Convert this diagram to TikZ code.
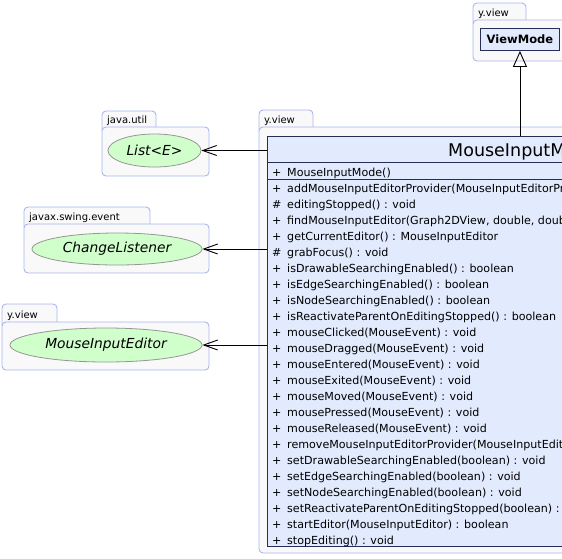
\documentclass[tikz,border=0pt]{standalone}
\usepackage{fontspec}
\setsansfont{DejaVu Sans}
\usetikzlibrary{arrows.meta,shapes.geometric}

\definecolor{pkgline}{RGB}{170,180,240}
\definecolor{pkgfill}{RGB}{249,249,249}
\definecolor{classfill}{RGB}{226,234,254}
\definecolor{classline}{RGB}{36,46,86}
\definecolor{ifacefill}{RGB}{208,255,204}
\definecolor{ifaceline}{RGB}{150,150,150}

\tikzset{
  pkgframe/.style={draw=pkgline, fill=pkgfill, line width=0.9pt, rounded corners=4pt},
  pkglabel/.style={font=\sffamily\fontsize{10}{12}\selectfont, inner sep=0pt},
  classbox/.style={draw=classline, fill=classfill, line width=0.9pt, inner sep=0pt},
  iface/.style={ellipse, draw=ifaceline, fill=ifacefill, line width=0.8pt, inner sep=0pt,
    font=\sffamily\itshape\fontsize{13.8}{16}\selectfont},
  member/.style={font=\sffamily\fontsize{11.1}{13}\selectfont, inner sep=0pt, anchor=base west},
  dep/.style={-{Straight Barb[length=14pt,width=10pt]}, line width=0.9pt},
  inherit/.style={-{Triangle[open,length=16pt,width=14pt]}, line width=0.9pt}
}

% package: left, tab right, body right, tab top, body top, body bottom, name
\newcommand{\umlpkg}[7]{%
  \draw[pkgframe] (#1,#4) rectangle (#2,#5+6);
  \draw[pkgframe] (#1,#5) rectangle (#3,#6);
  \node[pkglabel, anchor=base west] at (#1+5,#5-4) {#7};
}

\begin{document}
\begin{tikzpicture}[x=1pt, y=-1pt]
  \useasboundingbox (0,0) rectangle (562,558);
  \clip (0,0) rectangle (562,558);

  % --- packages ---
  \umlpkg{473}{526}{600}{3}{20}{61}{y.view}
  \umlpkg{102}{156}{209}{111}{127}{176}{java.util}
  \umlpkg{24}{150}{209}{207}{224}{273}{javax.swing.event}
  \umlpkg{2}{57}{209}{304}{322}{370}{y.view}
  \umlpkg{259}{313}{620}{110}{127}{553}{y.view}

  % --- ViewMode ---
  \node[classbox, anchor=north west, minimum width=79pt, minimum height=22pt,
    font=\sffamily\bfseries\fontsize{11.5}{13}\selectfont] (vm) at (480,28) {ViewMode};

  % --- interfaces ---
  \node[iface, minimum width=93pt, minimum height=33pt] (list) at (154.5,150.5) {List<E>};
  \node[iface, minimum width=170pt, minimum height=32pt] (chl) at (117,249) {ChangeListener};
  \node[iface, minimum width=192pt, minimum height=34pt] (mie) at (106,345) {MouseInputEditor};

  % --- MouseInputMode ---
  \node[classbox, anchor=north west, minimum width=500pt, minimum height=410pt] (mim) at (267,136) {};
  \node[anchor=base west, inner sep=0pt, font=\sffamily\fontsize{17.5}{20}\selectfont]
    at (448,156) {MouseInputMode};
  \draw[classline, line width=0.9pt] (mim.west |- 0,162) -- (mim.east |- 0,162);
  \draw[classline, line width=0.9pt] (mim.west |- 0,179) -- (mim.east |- 0,179);
  \node[member] at (272,176) {+};
  \node[member] at (287,176) {MouseInputMode()};
  \foreach \vis/\txt [count=\i from 0] in {
      +/{addMouseInputEditorProvider(MouseInputEditorProvider) : void},
      \#/{editingStopped() : void},
      +/{findMouseInputEditor(Graph2DView, double, double, HitInfo) : MouseInputEditor},
      +/{getCurrentEditor() : MouseInputEditor},
      \#/{grabFocus() : void},
      +/{isDrawableSearchingEnabled() : boolean},
      +/{isEdgeSearchingEnabled() : boolean},
      +/{isNodeSearchingEnabled() : boolean},
      +/{isReactivateParentOnEditingStopped() : boolean},
      +/{mouseClicked(MouseEvent) : void},
      +/{mouseDragged(MouseEvent) : void},
      +/{mouseEntered(MouseEvent) : void},
      +/{mouseExited(MouseEvent) : void},
      +/{mouseMoved(MouseEvent) : void},
      +/{mousePressed(MouseEvent) : void},
      +/{mouseReleased(MouseEvent) : void},
      +/{removeMouseInputEditorProvider(MouseInputEditorProvider) : void},
      +/{setDrawableSearchingEnabled(boolean) : void},
      +/{setEdgeSearchingEnabled(boolean) : void},
      +/{setNodeSearchingEnabled(boolean) : void},
      +/{setReactivateParentOnEditingStopped(boolean) : void},
      +/{startEditor(MouseInputEditor) : boolean},
      +/{stopEditing() : void}} {
    \node[member] at (272,192+16*\i) {\vis};
    \node[member] at (287,192+16*\i) {\txt};
  }

  % --- connectors ---
  \draw[inherit] (vm.south |- mim.north) -- (vm.south);
  \draw[dep] (list -| mim.west) -- (list);
  \draw[dep] (chl -| mim.west) -- (chl);
  \draw[dep] (mie -| mim.west) -- (mie);

\end{tikzpicture}
\end{document}
